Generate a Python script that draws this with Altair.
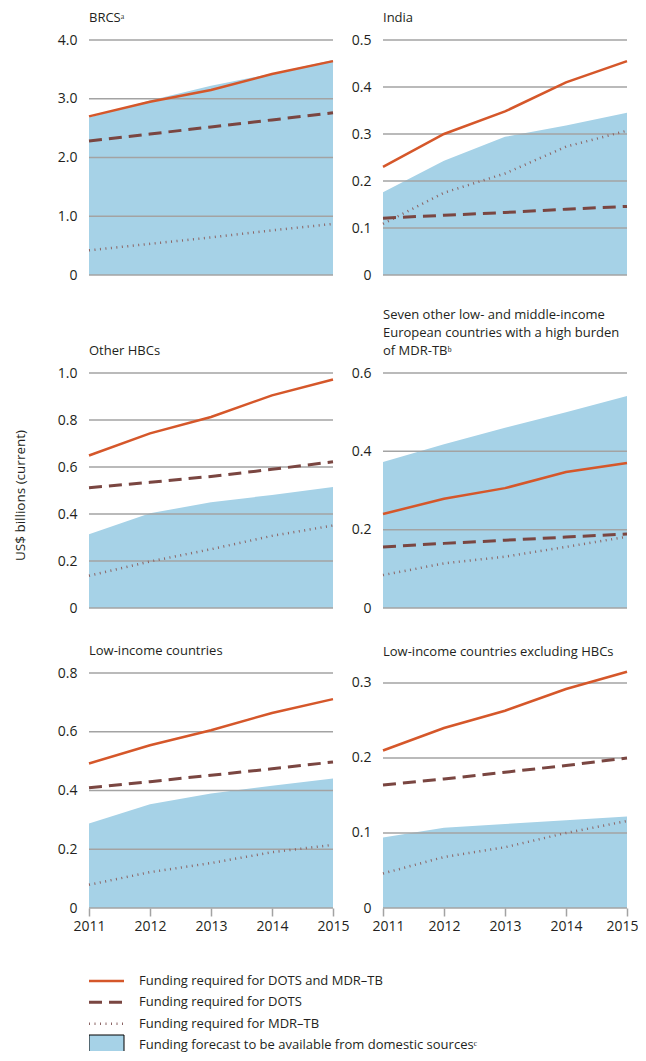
import altair as alt
import pandas as pd

years = [2011, 2012, 2013, 2014, 2015]

brcs_total = [2.70, 2.95, 3.15, 3.42, 3.64]
brcs_dots = [2.28, 2.40, 2.52, 2.64, 2.76]
brcs_mdr = [0.42, 0.53, 0.64, 0.76, 0.87]
brcs_dom = [2.68, 2.97, 3.22, 3.43, 3.66]

india_total = [0.230, 0.300, 0.348, 0.410, 0.455]
india_dots = [0.121, 0.127, 0.133, 0.140, 0.146]
india_mdr = [0.109, 0.175, 0.216, 0.273, 0.307]
india_dom = [0.176, 0.243, 0.294, 0.318, 0.345]

hbc_total = [0.649, 0.743, 0.813, 0.905, 0.972]
hbc_dots = [0.512, 0.535, 0.560, 0.590, 0.622]
hbc_mdr = [0.137, 0.198, 0.250, 0.307, 0.351]
hbc_dom = [0.314, 0.403, 0.450, 0.481, 0.515]

eur_total = [0.240, 0.279, 0.306, 0.347, 0.370]
eur_dots = [0.156, 0.165, 0.173, 0.181, 0.189]
eur_mdr = [0.084, 0.114, 0.131, 0.156, 0.182]
eur_dom = [0.373, 0.418, 0.460, 0.500, 0.541]

lic_total = [0.492, 0.554, 0.605, 0.664, 0.711]
lic_dots = [0.409, 0.430, 0.452, 0.474, 0.497]
lic_mdr = [0.079, 0.122, 0.153, 0.190, 0.215]
lic_dom = [0.288, 0.353, 0.390, 0.416, 0.441]

licx_total = [0.210, 0.240, 0.263, 0.292, 0.315]
licx_dots = [0.164, 0.172, 0.181, 0.190, 0.200]
licx_mdr = [0.046, 0.068, 0.081, 0.100, 0.116]
licx_dom = [0.094, 0.107, 0.112, 0.117, 0.122]

legend_labels = [
    "Funding required for DOTS and MDR\u2013TB",
    "Funding required for DOTS",
    "Funding required for MDR\u2013TB",
    "Funding forecast to be available from domestic sources\u1d9c",
]

FONT = "Open Sans"
TXT = "#231F20"
ORANGE = "#D5572A"
BROWN = "#7A4641"
DOTC = "#8B6464"
AREA = "#A6D2E7"
GRID = "#A3A3A3"

W = 244
H = 235


def panel(title, total, dots, mdr, dom, ymax, ticks, height=H, yrange=None,
          xaxis=False, flush=False, ytitle=None, title_offset=8):
    df = pd.DataFrame({"year": years, "total": total, "dots": dots,
                       "mdr": mdr, "dom": dom})
    sc = dict(domain=[0, ymax], nice=False, zero=True)
    if yrange is not None:
        sc["range"] = yrange
    yscale = alt.Scale(**sc)
    xscale = alt.Scale(domain=[2011, 2015], nice=False)
    if xaxis:
        fkw = dict(labelFlush=True, labelFlushOffset=11) if flush else dict(labelFlush=False)
        xax = alt.Axis(values=years, format="d", tickSize=8, tickColor=GRID,
                       tickWidth=1.5, domain=False, grid=False, labelFontSize=14,
                       labelFont=FONT, labelColor=TXT, labelPadding=3,
                       title=None, **fkw)
    else:
        xax = None
    yax_kw = dict(values=ticks, labelExpr="datum.value == 0 ? '0' : format(datum.value, '.1f')",
                  ticks=False, domain=False, grid=False, labelFontSize=14,
                  labelFont=FONT, labelColor=TXT, labelPadding=12)
    if ytitle:
        yax = alt.Axis(title=ytitle, titleFont=FONT, titleFontSize=13.5,
                       titleFontWeight="normal", titleColor=TXT,
                       titleX=-62, titleY=122, **yax_kw)
    else:
        yax = alt.Axis(title=None, **yax_kw)

    X = alt.X("year:Q", scale=xscale, axis=xax)

    def Y(f):
        return alt.Y(f, type="quantitative", scale=yscale, axis=yax)

    base = alt.Chart(df)
    area = base.mark_area(color=AREA, opacity=1).encode(x=X, y=Y("dom"))
    grid = alt.Chart(pd.DataFrame({"t": ticks})).mark_rule(
        color=GRID, strokeWidth=1.5).encode(y=Y("t"))
    mdr_l = base.mark_line(color=DOTC, strokeWidth=2.5, strokeDash=[1, 4.5]).encode(
        x=X, y=Y("mdr"))
    dots_l = base.mark_line(color=BROWN, strokeWidth=3, strokeDash=[13, 7]).encode(
        x=X, y=Y("dots"))
    tot_l = base.mark_line(color=ORANGE, strokeWidth=2.5).encode(
        x=X, y=Y("total"))
    tkw = dict(text=title, anchor="start", frame="group", fontSize=13, font=FONT,
               color=TXT, fontWeight="normal", offset=title_offset)
    if isinstance(title, list):
        tkw["lineHeight"] = 18
    return alt.layer(area, grid, mdr_l, dots_l, tot_l).properties(
        width=W, height=height, title=alt.TitleParams(**tkw))


p1 = panel("BRCS\u1d43", brcs_total, brcs_dots, brcs_mdr, brcs_dom, 4.0,
           [0, 1.0, 2.0, 3.0, 4.0], height=H + 33, yrange=[H, 0])
p2 = panel("India", india_total, india_dots, india_mdr, india_dom, 0.5,
           [0, 0.1, 0.2, 0.3, 0.4, 0.5], height=H + 33, yrange=[H, 0])
p3 = panel("Other HBCs", hbc_total, hbc_dots, hbc_mdr, hbc_dom, 1.0,
           [0, 0.2, 0.4, 0.6, 0.8, 1.0], ytitle="US$ billions (current)")
p4 = panel(["Seven other low- and middle-income",
            "European countries with a high burden",
            "of MDR-TB\u1d47"], eur_total, eur_dots, eur_mdr, eur_dom, 0.6,
           [0, 0.2, 0.4, 0.6])
p5 = panel("Low-income countries", lic_total, lic_dots, lic_mdr, lic_dom, 0.8,
           [0, 0.2, 0.4, 0.6, 0.8], xaxis=True)
p6 = panel("Low-income countries excluding HBCs", licx_total, licx_dots,
           licx_mdr, licx_dom, 0.3133, [0, 0.1, 0.2, 0.3], xaxis=True, flush=True)

# legend
leg_df = pd.DataFrame({"label": legend_labels})
ly = alt.Y("label:N", scale=alt.Scale(type="point", domain=legend_labels,
                                       range=[8, 72], padding=0), axis=None)
leg_base = alt.Chart(leg_df)
styles = [
    dict(color=ORANGE, strokeWidth=2.5),
    dict(color=BROWN, strokeWidth=3, strokeDash=[13, 7]),
    dict(color=DOTC, strokeWidth=2.5, strokeDash=[1, 4.5]),
]
leg_layers = []
for lab, st in zip(legend_labels[:3], styles):
    leg_layers.append(
        leg_base.transform_filter(alt.datum.label == lab).mark_rule(**st).encode(
            x=alt.value(0), x2=alt.value(35), y=ly))
box_shape = "M-1.75,-1L1.75,-1L1.75,1L-1.75,1Z"
leg_layers.append(
    leg_base.transform_filter(alt.datum.label == legend_labels[3]).mark_point(
        shape=box_shape, size=400, filled=True, fill=AREA, stroke="black",
        strokeWidth=1, opacity=1, clip=True).encode(x=alt.value(17.5), y=ly))
leg_layers.append(
    leg_base.mark_text(align="left", baseline="middle", font=FONT, fontSize=13,
                       color=TXT).encode(x=alt.value(50), y=ly, text="label:N"))
legend = alt.layer(*leg_layers).properties(width=W, height=78)

chart = alt.concat(p1, p2, p3, p4, p5, p6, legend, columns=2,
                   spacing={"row": 65, "column": 50}, bounds="flush").properties(
    padding={"left": 4, "top": 4, "right": 0, "bottom": 0},
    background="white",
).configure_view(stroke=None)

chart.save("out.html", embed_options={"renderer": "svg", "actions": False})
